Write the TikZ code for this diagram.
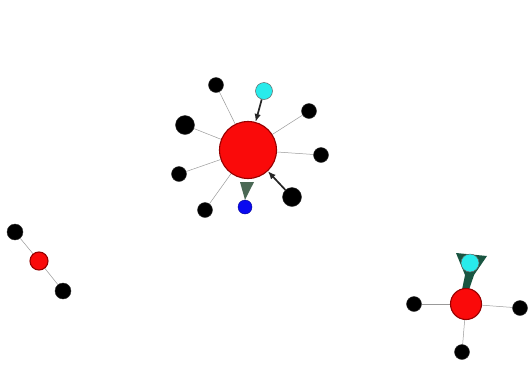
\documentclass[tikz,border=0pt]{standalone}
\usetikzlibrary{calc,arrows.meta,backgrounds}
\definecolor{nred}{RGB}{250,10,10}
\definecolor{nredd}{RGB}{150,0,0}
\definecolor{ncyan}{RGB}{40,235,235}
\definecolor{nblue}{RGB}{10,10,240}
\definecolor{wedgeA}{RGB}{75,105,85}
\definecolor{wedgeB}{RGB}{25,85,65}
\tikzset{
  blk/.style={circle,fill=black,draw=black!80,inner sep=0pt,minimum size=#1},
  blk/.default=15pt,
  hub/.style={circle,fill=nred,draw=nredd,line width=1.1pt,inner sep=0pt,minimum size=#1},
  cyn/.style={circle,fill=ncyan,draw=black!60,line width=0.5pt,inner sep=0pt,minimum size=#1},
  cyn/.default=17pt,
  blu/.style={circle,fill=nblue,draw=nblue!60!black,inner sep=0pt,minimum size=14pt},
  thinedge/.style={draw=black!40,line width=0.5pt},
  arredge/.style={draw=black!85,line width=1.7pt,-{Latex[length=8pt,width=6.5pt]}}
}
\begin{document}
\begin{tikzpicture}[x=1pt,y=-1pt]
\useasboundingbox (0,0) rectangle (531,365);
% main cluster
\node[hub=57pt] (c) at (248,150) {};
\node[blk] (a1) at (216,85) {};
\node[cyn] (cy) at (264,91) {};
\node[blk] (a2) at (309,111) {};
\node[blk] (a3) at (321,155) {};
\node[blk=19pt] (a4) at (185,125) {};
\node[blk] (a5) at (179,174) {};
\node[blk] (a6) at (205,210) {};
\node[blu] (bl) at (245,207) {};
\node[blk=19pt] (a7) at (292,197) {};
% left cluster
\node[hub=18pt] (l) at (39,261) {};
\node[blk=16pt] (l1) at (15,232) {};
\node[blk=16pt] (l2) at (63,291) {};
% right cluster
\node[hub=31pt] (r) at (466,304) {};
\node[blk] (r1) at (414,304) {};
\node[blk] (r2) at (520,308) {};
\node[blk] (r3) at (462,352) {};
\node[cyn=18pt] (rc) at (470,263) {};
\begin{scope}[on background layer]
  \foreach \n in {a1,a2,a3,a4,a5,a6} \draw[thinedge] (\n) -- (c);
  \draw[thinedge] (l1) -- (l) -- (l2);
  \foreach \n in {r1,r2,r3} \draw[thinedge] (\n) -- (r);
  % wedge to blue node
  \fill[wedgeA] ($(c.south)+(-8,3)$) -- ($(c.south)+(6,3)$) -- (bl.north) -- cycle;
  % wedge in right cluster
  \fill[wedgeB] ($(rc.center)+(-14,-10)$) -- ($(rc.center)+(17,-7)$) -- ($(rc.center)+(4,12)$)
     -- ($(r.north)+(3,2)$) -- ($(r.north)+(-4,2)$) -- ($(rc.center)+(-5,12)$) -- cycle;
\end{scope}
\draw[arredge] (cy) -- (c);
\draw[arredge] (a7) -- (c);
\end{tikzpicture}
\end{document}
